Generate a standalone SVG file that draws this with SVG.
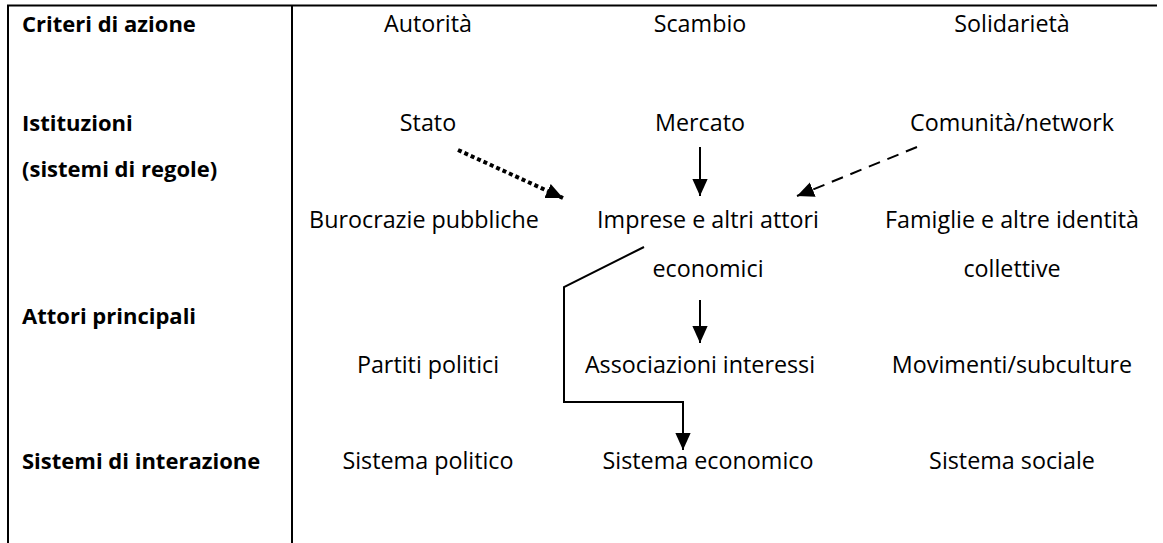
<svg xmlns="http://www.w3.org/2000/svg" width="1163" height="543" viewBox="0 0 1163 543">
<style>
text{font-family:"Open Sans","Noto Sans",sans-serif;font-size:23.3px;fill:#000}
.b{font-weight:bold;font-size:22px}
.c{text-anchor:middle}
.ln{stroke:#000;stroke-width:2;fill:none}
</style>
<defs>
<marker id="ahL" viewBox="0 0 10 10" refX="10" refY="5" markerWidth="17" markerHeight="17" markerUnits="userSpaceOnUse" orient="auto">
<path d="M0,0.5 L10,5 L0,9.5 z" fill="#000"/>
</marker>
</defs>
<rect width="1163" height="543" fill="#fff"/>
<g id="frame">
<line class="ln" x1="7" y1="5.5" x2="1157" y2="5.5"/>
<line class="ln" x1="8" y1="5" x2="8" y2="543"/>
<line class="ln" x1="292" y1="5" x2="292" y2="543"/>
</g>
<g id="row-labels">
<text class="b" x="22" y="32">Criteri di azione</text>
<text class="b" x="22" y="131">Istituzioni</text>
<text class="b" x="22" y="177">(sistemi di regole)</text>
<text class="b" x="22" y="324">Attori principali</text>
<text class="b" x="22" y="469">Sistemi di interazione</text>
</g>
<g id="autorita"><text class="c" x="428" y="32">Autorità</text></g>
<g id="scambio"><text class="c" x="700" y="32">Scambio</text></g>
<g id="solidarieta"><text class="c" x="1012" y="32">Solidarietà</text></g>
<g id="stato"><text class="c" x="428" y="131">Stato</text></g>
<g id="mercato"><text class="c" x="700" y="131">Mercato</text></g>
<g id="comunita"><text class="c" x="1012" y="131">Comunità/network</text></g>
<g id="burocrazie"><text class="c" x="424" y="228">Burocrazie pubbliche</text></g>
<g id="imprese"><text class="c" x="708" y="228">Imprese e altri attori</text><text class="c" x="708" y="277">economici</text></g>
<g id="famiglie"><text class="c" x="1012" y="228">Famiglie e altre identità</text><text class="c" x="1012" y="277">collettive</text></g>
<g id="partiti"><text class="c" x="428" y="373">Partiti politici</text></g>
<g id="associazioni"><text class="c" x="700" y="373">Associazioni interessi</text></g>
<g id="movimenti"><text class="c" x="1012" y="373">Movimenti/subculture</text></g>
<g id="sis-politico"><text class="c" x="428" y="469">Sistema politico</text></g>
<g id="sis-economico"><text class="c" x="708" y="469">Sistema economico</text></g>
<g id="sis-sociale"><text class="c" x="1012" y="469">Sistema sociale</text></g>
<g id="connectors">
<line x1="458" y1="150" x2="563" y2="198" stroke="#000" stroke-width="4" stroke-dasharray="4 3" marker-end="url(#ahL)"/>
<line class="ln" x1="700" y1="147" x2="700" y2="196" marker-end="url(#ahL)"/>
<line class="ln" x1="917" y1="147" x2="797" y2="196" stroke-dasharray="12 8" marker-end="url(#ahL)"/>
<polyline class="ln" points="644,247 564,287 564,402 683,402 683,450" marker-end="url(#ahL)"/>
<line class="ln" x1="700" y1="300" x2="700" y2="343" marker-end="url(#ahL)"/>
</g>
</svg>
